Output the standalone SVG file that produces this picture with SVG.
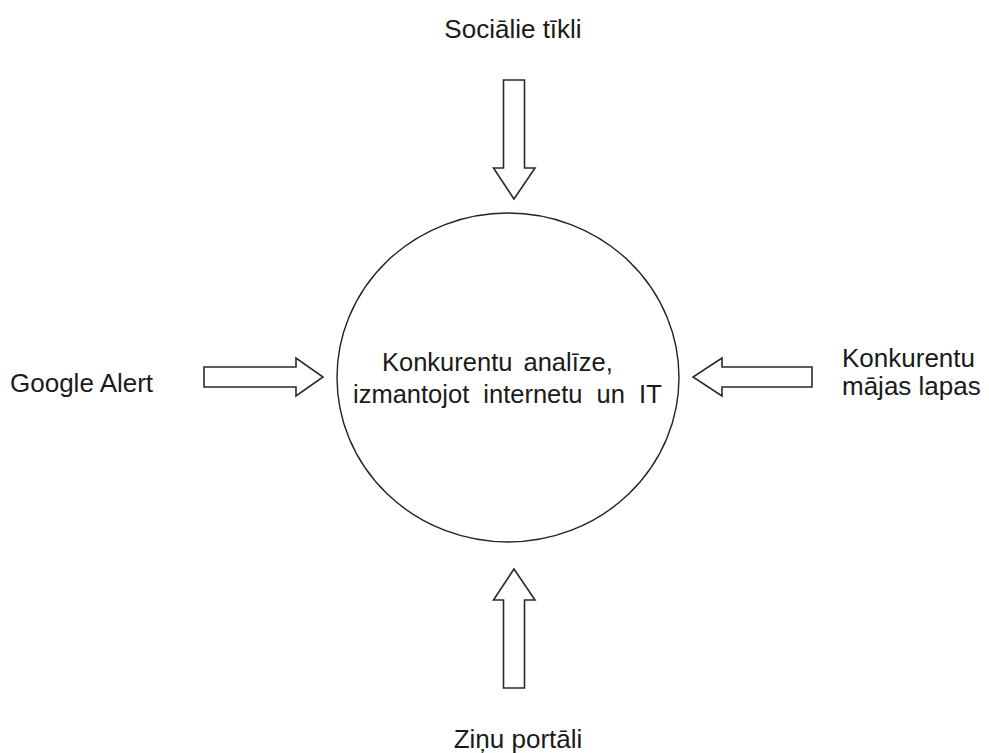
<svg xmlns="http://www.w3.org/2000/svg" width="989" height="753" viewBox="0 0 989 753">
  <style>
    .label { font-family: "Liberation Sans", Arial, sans-serif; font-size: 26px; fill: #1a1a1a; }
    .core { font-family: "Liberation Sans", Arial, sans-serif; font-size: 25.5px; fill: #1a1a1a; }
    .ring { fill: #ffffff; stroke: #222222; stroke-width: 1.4; }
    .block-arrow { fill: #ffffff; stroke: #2a2a2a; stroke-width: 1.6; stroke-linejoin: miter; }
  </style>
  <rect x="0" y="0" width="989" height="753" fill="#ffffff"/>

  <!-- central topic -->
  <g id="node-analysis">
    <ellipse class="ring" cx="508" cy="377.5" rx="171" ry="164.5"/>
    <text class="core" x="382" y="371" word-spacing="4">Konkurentu analīze,</text>
    <text class="core" x="353" y="403" word-spacing="7">izmantojot internetu un IT</text>
  </g>

  <!-- information sources -->
  <g id="node-social">
    <text class="label" x="513" y="38" text-anchor="middle">Sociālie tīkli</text>
  </g>
  <g id="node-google">
    <text class="label" x="10" y="392">Google Alert</text>
  </g>
  <g id="node-competitor-sites">
    <text class="label" x="842" y="367">Konkurentu</text>
    <text class="label" x="842" y="395" font-size="26.5">mājas lapas</text>
  </g>
  <g id="node-news">
    <text class="label" x="518" y="748" text-anchor="middle">Ziņu portāli</text>
  </g>

  <!-- block arrows pointing into the centre -->
  <g id="connectors">
    <polygon class="block-arrow" points="503.5,80 524.5,80 524.5,168 535,168 514,199 493.5,168 503.5,168"/>
    <polygon class="block-arrow" points="204,367 296,367 296,358 323,377 296,396 296,387 204,387"/>
    <polygon class="block-arrow" points="812,367 722,367 722,358 693,377 722,396 722,387 812,387"/>
    <polygon class="block-arrow" points="503.5,688 524.5,688 524.5,600 535,600 514,569 493.5,600 503.5,600"/>
  </g>
</svg>
